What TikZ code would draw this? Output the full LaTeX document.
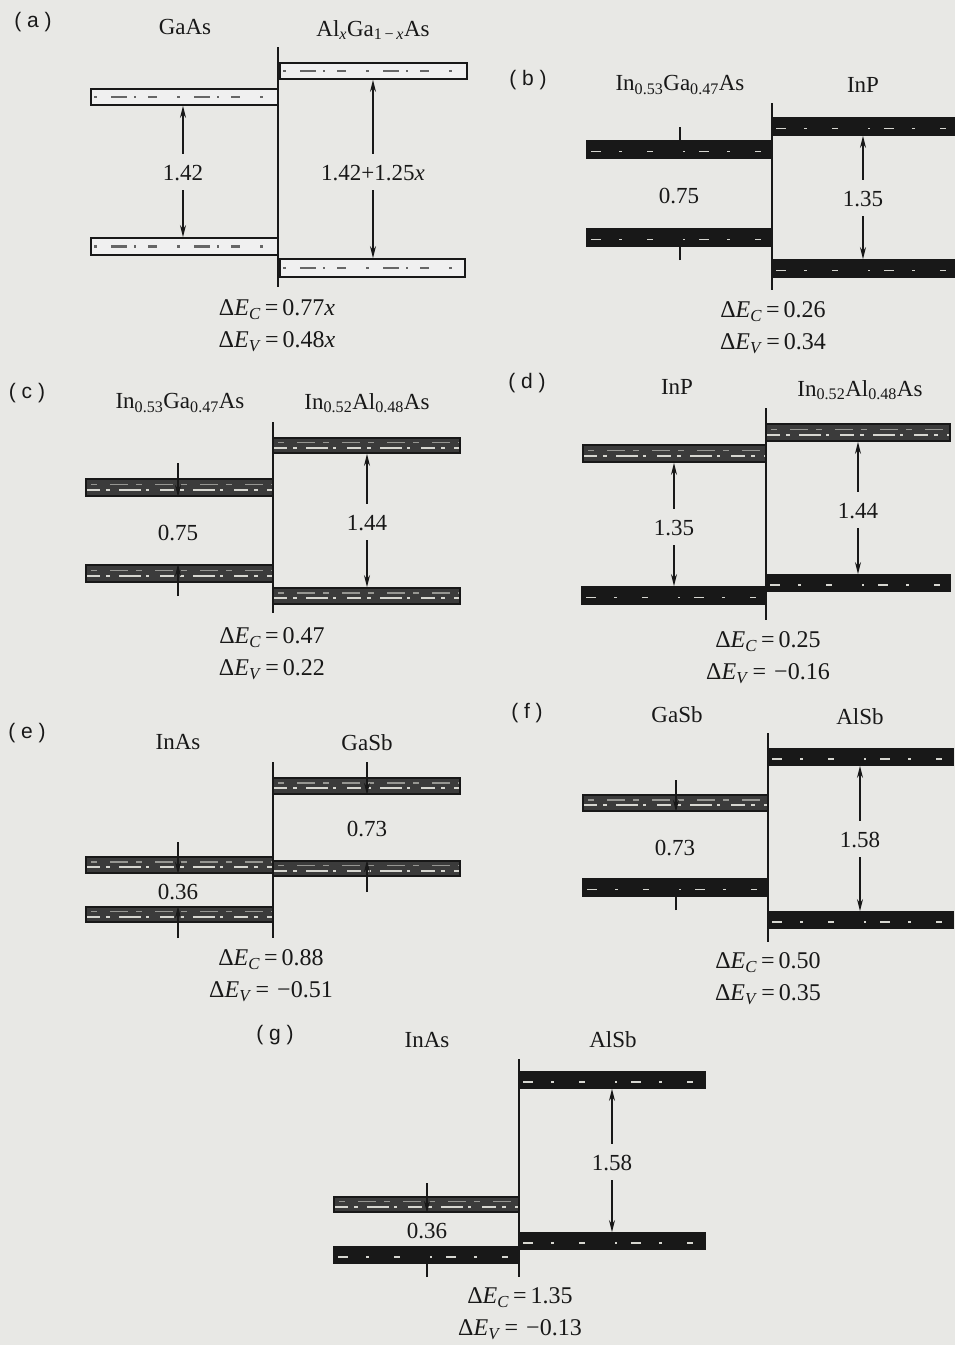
\documentclass[tikz,border=0pt]{standalone}
\usepackage{fontspec}
\setmainfont{Liberation Serif}
\setsansfont{Liberation Sans}
\usetikzlibrary{arrows.meta, positioning, fit}
\definecolor{paperbg}{RGB}{232,232,229}
\definecolor{inkdark}{RGB}{24,24,24}
\definecolor{speck}{RGB}{214,214,208}
\newcommand{\dEC}[1]{Δ\textit{E}\textsubscript{\textit{C}}\,=\,#1}
\newcommand{\dEV}[1]{Δ\textit{E}\textsubscript{\textit{V}}\,=\,#1}

\begin{document}
\begin{tikzpicture}[
    x=1pt, y=-1pt,
    node distance=11pt,
    band/.style={draw=inkdark, line width=1.8pt, inner sep=0pt},
    bandlight/.style={band, fill=white!94!black, path picture={
        \draw[black!60, line width=2.5pt, dash pattern=on 3pt off 14pt on 16pt off 7pt on 2pt off 12pt on 9pt off 20pt]
          ([xshift=3pt]path picture bounding box.west) -- (path picture bounding box.east);}},
    bandmid/.style={band, fill=inkdark!85, path picture={
        \draw[speck, line width=2pt, dash pattern=on 14pt off 6pt on 4pt off 9pt on 22pt off 5pt on 3pt off 11pt]
          ([yshift=-2pt]path picture bounding box.west) -- ([yshift=-2pt]path picture bounding box.east);
        \draw[speck!70!black, line width=1.5pt, dash pattern=on 6pt off 13pt on 18pt off 8pt]
          ([xshift=5pt, yshift=3pt]path picture bounding box.west) -- ([yshift=3pt]path picture bounding box.east);}},
    banddark/.style={band, fill=inkdark, path picture={
        \draw[speck, line width=1.8pt, dash pattern=on 10pt off 18pt on 3pt off 25pt on 6pt off 30pt on 2pt off 14pt]
          ([xshift=4pt, yshift=-2pt]path picture bounding box.west) -- ([yshift=-2pt]path picture bounding box.east);}},
    iface/.style={draw=inkdark, line width=1.5pt},
    gaparrow/.style={-{Stealth[length=12pt, width=6pt]}, line width=1.4pt, draw=inkdark},
    tag/.style={font=\sffamily\fontsize{21}{24}\selectfont, text=inkdark},
    mat/.style={font=\fontsize{23}{27}\selectfont, text=inkdark},
    gaplabel/.style={font=\fontsize{23}{27}\selectfont, text=inkdark, text height=16pt, text depth=0pt, inner xsep=2pt, inner ysep=10pt},
    offset/.style={font=\fontsize{24}{28}\selectfont, text=inkdark, text height=16pt, text depth=5pt, inner sep=0pt}
]
    \fill[paperbg] (0,0) rectangle (955,1345);
    \useasboundingbox (0,0) rectangle (955,1345);

    % (a) GaAs / AlGaAs
    \node[tag] (ta) at (33,22) {( a )};
    \node[mat] (aL) at (185,27) {GaAs};
    \node[mat] (aR) at (373,30) {Al\textsubscript{\textit{x}}Ga\textsubscript{1\,−\,\textit{x}}As};
    \node[bandlight, fit={(91,89) (278,105)}] (aLc) {};
    \node[bandlight, fit={(91,238) (278,255)}] (aLv) {};
    \node[bandlight, fit={(280,63) (467,79)}] (aRc) {};
    \node[bandlight, fit={(280,259) (465,277)}] (aRv) {};
    \draw[iface] (278,47) -- (278,287);
    \node[gaplabel] (aLg) at (183,172) {1.42};
    \node[gaplabel] (aRg) at (373,172) {1.42+1.25\textit{x}};
    \draw[gaparrow] (aLg) -- (aLg |- aLc.south);
    \draw[gaparrow] (aLg) -- (aLg |- aLv.north);
    \draw[gaparrow] (aRg) -- (aRg |- aRc.south);
    \draw[gaparrow] (aRg) -- (aRg |- aRv.north);
    \node[offset] (aEc) at (277,310) {\dEC{0.77\textit{x}}};
    \node[offset, below=of aEc] (aEv) {\dEV{0.48\textit{x}}};

    % (b) InGaAs / InP
    \node[tag] (tb) at (528,80) {( b )};
    \node[mat] (bL) at (680,85) {In\textsubscript{0.53}Ga\textsubscript{0.47}As};
    \node[mat] (bR) at (863,85) {InP};
    \node[banddark, fit={(587,141) (772,158)}] (bLc) {};
    \node[banddark, fit={(587,229) (772,246)}] (bLv) {};
    \node[banddark, fit={(772,118) (956,135)}] (bRc) {};
    \node[banddark, fit={(772,260) (956,277)}] (bRv) {};
    \draw[iface] (772,103) -- (772,290);
    \node[gaplabel] (bLg) at (679,195) {0.75};
    \node[gaplabel] (bRg) at (863,198) {1.35};
    \draw[gaparrow] (bRg) -- (bRg |- bRc.south);
    \draw[gaparrow] (bRg) -- (bRg |- bRv.north);
    \coordinate (bLt) at (680,127);
    \coordinate (bLb) at (680,260);
    \draw[gaparrow] (bLt) -- (bLt |- bLc.south);
    \draw[gaparrow] (bLb) -- (bLb |- bLv.north);
    \node[offset] (bEc) at (773,312) {\dEC{0.26}};
    \node[offset, below=of bEc] (bEv) {\dEV{0.34}};

    % (c) InGaAs / InAlAs
    \node[tag] (tc) at (27,393) {( c )};
    \node[mat] (cL) at (180,403) {In\textsubscript{0.53}Ga\textsubscript{0.47}As};
    \node[mat] (cR) at (367,403) {In\textsubscript{0.52}Al\textsubscript{0.48}As};
    \node[bandmid, fit={(86,479) (273,496)}] (cLc) {};
    \node[bandmid, fit={(86,565) (273,582)}] (cLv) {};
    \node[bandmid, fit={(273,438) (460,453)}] (cRc) {};
    \node[bandmid, fit={(273,588) (460,604)}] (cRv) {};
    \draw[iface] (273,422) -- (273,613);
    \node[gaplabel] (cLg) at (178,532) {0.75};
    \node[gaplabel] (cRg) at (367,522) {1.44};
    \draw[gaparrow] (cRg) -- (cRg |- cRc.south);
    \draw[gaparrow] (cRg) -- (cRg |- cRv.north);
    \coordinate (cLt) at (178,463);
    \coordinate (cLb) at (178,596);
    \draw[gaparrow] (cLt) -- (cLt |- cLc.south);
    \draw[gaparrow] (cLb) -- (cLb |- cLv.north);
    \node[offset] (cEc) at (272,638) {\dEC{0.47}};
    \node[offset, below=of cEc] (cEv) {\dEV{0.22}};

    % (d) InP / InAlAs
    \node[tag] (td) at (527,383) {( d )};
    \node[mat] (dL) at (677,387) {InP};
    \node[mat] (dR) at (860,390) {In\textsubscript{0.52}Al\textsubscript{0.48}As};
    \node[bandmid, fit={(583,445) (766,462)}] (dLc) {};
    \node[banddark, fit={(582,587) (766,604)}] (dLv) {};
    \node[bandmid, fit={(766,424) (950,441)}] (dRc) {};
    \node[banddark, fit={(766,575) (950,591)}] (dRv) {};
    \draw[iface] (766,408) -- (766,620);
    \node[gaplabel] (dLg) at (674,527) {1.35};
    \node[gaplabel] (dRg) at (858,510) {1.44};
    \draw[gaparrow] (dLg) -- (dLg |- dLc.south);
    \draw[gaparrow] (dLg) -- (dLg |- dLv.north);
    \draw[gaparrow] (dRg) -- (dRg |- dRc.south);
    \draw[gaparrow] (dRg) -- (dRg |- dRv.north);
    \node[offset] (dEc) at (768,642) {\dEC{0.25}};
    \node[offset, below=of dEc] (dEv) {\dEV{\,−0.16}};

    % (e) InAs / GaSb
    \node[tag] (te) at (27,733) {( e )};
    \node[mat] (eL) at (178,742) {InAs};
    \node[mat] (eR) at (367,743) {GaSb};
    \node[bandmid, fit={(86,857) (273,873)}] (eLc) {};
    \node[bandmid, fit={(86,907) (273,922)}] (eLv) {};
    \node[bandmid, fit={(273,778) (460,794)}] (eRc) {};
    \node[bandmid, fit={(273,861) (460,876)}] (eRv) {};
    \draw[iface] (273,762) -- (273,938);
    \node[gaplabel, inner ysep=2pt] (eLg) at (178,891) {0.36};
    \node[gaplabel] (eRg) at (367,828) {0.73};
    \coordinate (eLt) at (178,842);
    \coordinate (eLb) at (178,938);
    \coordinate (eRt) at (367,762);
    \coordinate (eRb) at (367,892);
    \draw[gaparrow] (eLt) -- (eLt |- eLc.south);
    \draw[gaparrow] (eLb) -- (eLb |- eLv.north);
    \draw[gaparrow] (eRt) -- (eRt |- eRc.south);
    \draw[gaparrow] (eRb) -- (eRb |- eRv.north);
    \node[offset] (eEc) at (271,960) {\dEC{0.88}};
    \node[offset, below=of eEc] (eEv) {\dEV{\,−0.51}};

    % (f) GaSb / AlSb
    \node[tag] (tf) at (527,713) {( f )};
    \node[mat] (fL) at (677,715) {GaSb};
    \node[mat] (fR) at (860,717) {AlSb};
    \node[bandmid, fit={(583,795) (768,811)}] (fLc) {};
    \node[banddark, fit={(583,879) (768,896)}] (fLv) {};
    \node[banddark, fit={(768,749) (953,765)}] (fRc) {};
    \node[banddark, fit={(768,912) (953,928)}] (fRv) {};
    \draw[iface] (768,733) -- (768,942);
    \node[gaplabel] (fLg) at (675,847) {0.73};
    \node[gaplabel] (fRg) at (860,839) {1.58};
    \draw[gaparrow] (fRg) -- (fRg |- fRc.south);
    \draw[gaparrow] (fRg) -- (fRg |- fRv.north);
    \coordinate (fLt) at (676,780);
    \coordinate (fLb) at (676,910);
    \draw[gaparrow] (fLt) -- (fLt |- fLc.south);
    \draw[gaparrow] (fLb) -- (fLb |- fLv.north);
    \node[offset] (fEc) at (768,963) {\dEC{0.50}};
    \node[offset, below=of fEc] (fEv) {\dEV{0.35}};

    % (g) InAs / AlSb
    \node[tag] (tg) at (275,1035) {( g )};
    \node[mat] (gL) at (427,1040) {InAs};
    \node[mat] (gR) at (613,1040) {AlSb};
    \node[bandmid, fit={(334,1197) (519,1212)}] (gLc) {};
    \node[banddark, fit={(334,1247) (519,1263)}] (gLv) {};
    \node[banddark, fit={(519,1072) (705,1088)}] (gRc) {};
    \node[banddark, fit={(519,1233) (705,1249)}] (gRv) {};
    \draw[iface] (519,1059) -- (519,1277);
    \node[gaplabel, inner ysep=2pt] (gLg) at (427,1230) {0.36};
    \node[gaplabel] (gRg) at (612,1162) {1.58};
    \draw[gaparrow] (gRg) -- (gRg |- gRc.south);
    \draw[gaparrow] (gRg) -- (gRg |- gRv.north);
    \coordinate (gLt) at (427,1183);
    \coordinate (gLb) at (427,1277);
    \draw[gaparrow] (gLt) -- (gLt |- gLc.south);
    \draw[gaparrow] (gLb) -- (gLb |- gLv.north);
    \node[offset] (gEc) at (520,1298) {\dEC{1.35}};
    \node[offset, below=of gEc] (gEv) {\dEV{\,−0.13}};
\end{tikzpicture}
\end{document}
